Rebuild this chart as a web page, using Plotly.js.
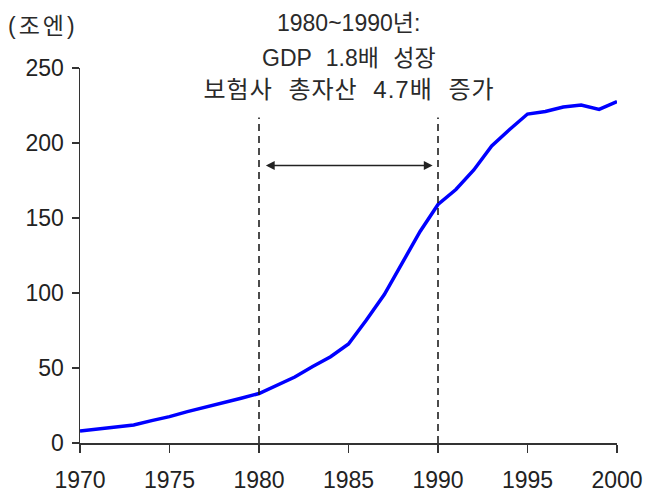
<!DOCTYPE html>
<html>
<head>
<meta charset="utf-8">
<script src="https://cdn.plot.ly/plotly-3.0.1.min.js"></script>
<style>
  html, body { margin: 0; padding: 0; background: #fff; }
  #chart { width: 659px; height: 493px; }
  /* per-line spacing of the note text (annotations 1..3) and the unit label (4) */
  #chart g.annotation[data-index="2"] .annotation-text { word-spacing: 8px; }
  #chart g.annotation[data-index="3"] .annotation-text { word-spacing: 8px; letter-spacing: 1px; }
  #chart g.annotation[data-index="4"] .annotation-text { letter-spacing: 3px; }
</style>
</head>
<body>
<div id="chart"></div>
<script>
// Insurance companies' total assets, trillion yen
const years = [1970, 1971, 1972, 1973, 1974, 1975, 1976, 1977, 1978, 1979,
               1980, 1981, 1982, 1983, 1984, 1985, 1986, 1987, 1988, 1989,
               1990, 1991, 1992, 1993, 1994, 1995, 1996, 1997, 1998, 1999, 2000];
const assets = [8, 9.3, 10.4, 12, 14.9, 17.6, 20.9, 23.8, 26.4, 29.8,
                33, 38.7, 44, 51, 57.5, 66, 82, 99, 120, 141,
                159, 169, 182, 198, 209, 219.3, 221, 224, 225.3, 222.4, 227.6];

const xTicks = [1970, 1975, 1980, 1985, 1990, 1995, 2000];
const yTicks = [0, 50, 100, 150, 200, 250];

// Period markers and the span arrow between them
const periodStart = 1980;
const periodEnd = 1990;
const markerTop = 217;
const arrowLevel = 185;

const unitLabel = '(조엔)';
const noteLines = ['1980~1990년:', 'GDP 1.8배 성장', '보험사 총자산 4.7배 증가'];

const FONT = 'Liberation Sans, Arial, "Noto Sans CJK KR", sans-serif';
const TEXT = '#222';
const NOTE = '#2a2a2a';

const trace = {
  x: years,
  y: assets,
  type: 'scatter',
  mode: 'lines',
  line: { color: '#0000ff', width: 3.5 },
  cliponaxis: false,
  hoverinfo: 'x+y'
};

const dashed = (x) => ({
  type: 'line', xref: 'x', yref: 'y',
  x0: x, x1: x, y0: 0, y1: markerTop,
  line: { color: '#111', width: 1.5, dash: '7px,5px' }
});

// vertical offsets (px above the plot top) and sizes of each note line
const noteShifts = [45, 10, -21];
const noteSizes = [23, 23, 24];

const noteAnnotations = noteLines.map((t, i) => ({
  xref: 'x', yref: 'paper',
  x: 1985, y: 1,
  yshift: noteShifts[i],
  xanchor: 'center', yanchor: 'middle',
  text: t,
  showarrow: false,
  font: { family: FONT, size: noteSizes[i], color: NOTE }
}));

const axisCommon = {
  showgrid: false,
  zeroline: false,
  showline: true,
  linecolor: '#333',
  linewidth: 1.5,
  ticks: 'outside',
  tickwidth: 1.5,
  tickcolor: '#333',
  tickfont: { family: FONT, size: 23, color: TEXT },
  fixedrange: true
};

const layout = {
  width: 659,
  height: 493,
  margin: { l: 80, r: 42, t: 68, b: 50 },
  paper_bgcolor: '#fff',
  plot_bgcolor: '#fff',
  showlegend: false,
  font: { family: FONT, size: 22, color: TEXT },
  xaxis: Object.assign({}, axisCommon, {
    range: [1970, 2000],
    tickvals: xTicks,
    ticktext: xTicks.map(String),
    ticklen: 8,
    ticklabelstandoff: 8
  }),
  yaxis: Object.assign({}, axisCommon, {
    range: [0, 250],
    tickvals: yTicks,
    ticktext: yTicks.map(String),
    ticklen: 7,
    ticklabelstandoff: 3
  }),
  shapes: [dashed(periodStart), dashed(periodEnd)],
  annotations: [
    {
      xref: 'x', yref: 'y', axref: 'x', ayref: 'y',
      x: periodEnd - 0.3, y: arrowLevel,
      ax: periodStart + 0.3, ay: arrowLevel,
      text: '', showarrow: true,
      arrowside: 'end+start',
      arrowhead: 2, arrowsize: 1.1, arrowwidth: 1.6, arrowcolor: '#222'
    },
    ...noteAnnotations,
    {
      xref: 'paper', yref: 'paper',
      x: 0, y: 1, xshift: -68, yshift: 42,
      xanchor: 'left', yanchor: 'middle',
      text: unitLabel,
      showarrow: false,
      font: { family: FONT, size: 23, color: NOTE }
    }
  ]
};

Plotly.newPlot('chart', [trace], layout, { displayModeBar: false, staticPlot: true });
</script>
</body>
</html>
